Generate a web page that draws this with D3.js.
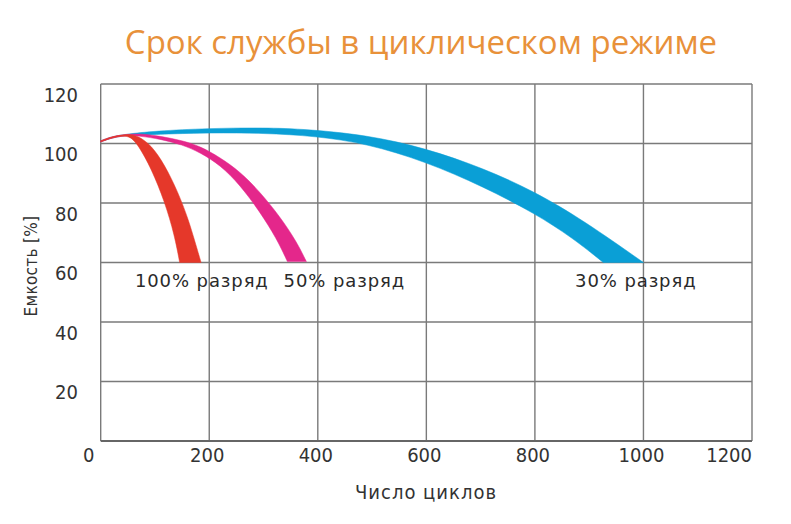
<!DOCTYPE html>
<html>
<head>
<meta charset="utf-8">
<script src="https://cdn.jsdelivr.net/npm/d3@7"></script>
<style>
  body { margin: 0; background: #fff; }
  text { fill: #333; }
</style>
</head>
<body>
<div id="chart"></div>
<script>
// axis ticks
var xTicks = [0, 200, 400, 600, 800, 1000, 1200];
var yTicks = [0, 20, 40, 60, 80, 100, 120];

// band edges, [cycles, capacity %] -- outer edge then inner edge
var blueOuter = [[0,100.9],[20,102.3],[45,103.1],[100,104.2],[200,105.1],[290,105.3],[367,105],[490,102.9],[599,98.4],[705,91.7],[800,83.8],[889,74.2],[1000,60]];
var blueInner = [[926,60],[870,68.2],[800,76.5],[705,85.5],[599,93.9],[490,100],[395,102.5],[300,103.5],[200,103.6],[120,103.2],[70,102.7],[45,102.7],[20,101.9],[0,100.5]];
var pinkOuter = [[0,100.9],[20,102.3],[45,103.1],[75,103.3],[112,102.4],[150,101],[183,99.1],[220,95.3],[257,90.5],[293,83.8],[330,75.5],[361,67],[379,60.3]];
var pinkInner = [[344,60.3],[324,68.1],[293,77.1],[257,86],[220,92.8],[183,97],[150,99.6],[112,101.4],[70,102.6],[45,102.7],[20,101.9],[0,100.5]];
var redOuter = [[0,100.9],[20,102.3],[40,102.9],[55,103.1],[69,102.5],[93,99.5],[118,92.8],[142,83.8],[161,74.9],[179,63.7],[185,60]];
var redInner = [[145.5,60],[136,69.2],[118,80.4],[93,91.7],[69,99.5],[55,102.3],[40,102.6],[20,101.9],[0,100.5]];

// annotation labels
var labels = ["100% разряд", "50% разряд", "30% разряд"];
var labelCycles = [63, 337, 874];
var labelCap = 54;

var width = 791, height = 524;

var svg = d3.select("#chart").append("svg")
    .attr("width", width)
    .attr("height", height);

var x = d3.scaleLinear().domain([0, 1200]).range([100.7, 752]);
var y = d3.scaleLinear().domain([0, 120]).range([441, 84]);

// title
svg.append("text")
    .attr("x", 421).attr("y", 41)
    .attr("text-anchor", "middle")
    .attr("dominant-baseline", "central")
    .style("font-family", "'Open Sans', sans-serif")
    .style("font-size", "33px")
    .style("fill", "#e8913a")
    .text("Срок службы в циклическом режиме");

// grid
var grid = svg.append("g").attr("class", "grid");
grid.selectAll(".vline")
    .data(xTicks)
    .enter().append("line")
    .attr("x1", function(d) { return x(d); })
    .attr("x2", function(d) { return x(d); })
    .attr("y1", y(0)).attr("y2", y(120))
    .attr("stroke", "#7a7a7a").attr("stroke-width", 1.4);
grid.selectAll(".hline")
    .data(yTicks)
    .enter().append("line")
    .attr("y1", function(d) { return y(d); })
    .attr("y2", function(d) { return y(d); })
    .attr("x1", x(0)).attr("x2", x(1200))
    .attr("stroke", function(d) { return d == 0 ? "#666" : "#7a7a7a"; })
    .attr("stroke-width", function(d) { return d == 0 ? 2 : 1.4; });

// bands (basis curve smooths out the reading noise)
var line = d3.line()
    .x(function(d) { return x(d[0]); })
    .y(function(d) { return y(d[1]); })
    .curve(d3.curveBasis);

function bandPath(outer, inner) {
  return line(outer) + "L" + line(inner).substring(1) + "Z";
}

var bands = [
  {outer: blueOuter, inner: blueInner, color: "#0a9fd6"},
  {outer: pinkOuter, inner: pinkInner, color: "#e4278b"},
  {outer: redOuter, inner: redInner, color: "#e5382a"}
];

svg.selectAll(".band")
    .data(bands)
    .enter().append("path")
    .attr("class", "band")
    .attr("d", function(d) { return bandPath(d.outer, d.inner); })
    .attr("fill", function(d) { return d.color; })
    .attr("stroke", function(d) { return d.color; })
    .attr("stroke-width", 0.5);

// band labels
svg.selectAll(".lbl")
    .data(labels)
    .enter().append("text")
    .attr("x", function(d, i) { return x(labelCycles[i]); })
    .attr("y", y(labelCap))
    .attr("dominant-baseline", "central")
    .style("font-family", "'DejaVu Sans', sans-serif")
    .style("font-size", "18px")
    .style("letter-spacing", "0.9px")
    .style("fill", "#2a2a2a")
    .text(function(d) { return d; });

// tick labels
svg.selectAll(".xt")
    .data(xTicks)
    .enter().append("text")
    .attr("x", function(d) {
      if (d == 0) return x(d) - 12;
      if (d == 1200) return x(d);
      return x(d) - 2;
    })
    .attr("y", y(0) + 14)
    .attr("text-anchor", function(d) { return d == 1200 ? "end" : "middle"; })
    .attr("dominant-baseline", "central")
    .style("font-family", "'DejaVu Sans Condensed', 'DejaVu Sans', sans-serif")
    .style("font-size", "20px")
    .text(function(d) { return d; });

svg.selectAll(".yt")
    .data(yTicks.filter(function(d) { return d > 0; }))
    .enter().append("text")
    .attr("x", 78)
    .attr("y", function(d) { return y(d) + 10.5; })
    .attr("text-anchor", "end")
    .attr("dominant-baseline", "central")
    .style("font-family", "'DejaVu Sans Condensed', 'DejaVu Sans', sans-serif")
    .style("font-size", "20px")
    .text(function(d) { return d; });

// axis titles
svg.append("text")
    .attr("x", 426).attr("y", 492)
    .attr("text-anchor", "middle")
    .attr("dominant-baseline", "central")
    .style("font-family", "'DejaVu Sans Condensed', 'DejaVu Sans', sans-serif")
    .style("font-size", "20px")
    .style("letter-spacing", "1px")
    .text("Число циклов");

svg.append("text")
    .attr("transform", "translate(31,266) rotate(-90)")
    .attr("text-anchor", "middle")
    .attr("dominant-baseline", "central")
    .style("font-family", "'DejaVu Sans Condensed', 'DejaVu Sans', sans-serif")
    .style("font-size", "17px")
    .style("letter-spacing", "0.3px")
    .text("Емкость [%]");
</script>
</body>
</html>
